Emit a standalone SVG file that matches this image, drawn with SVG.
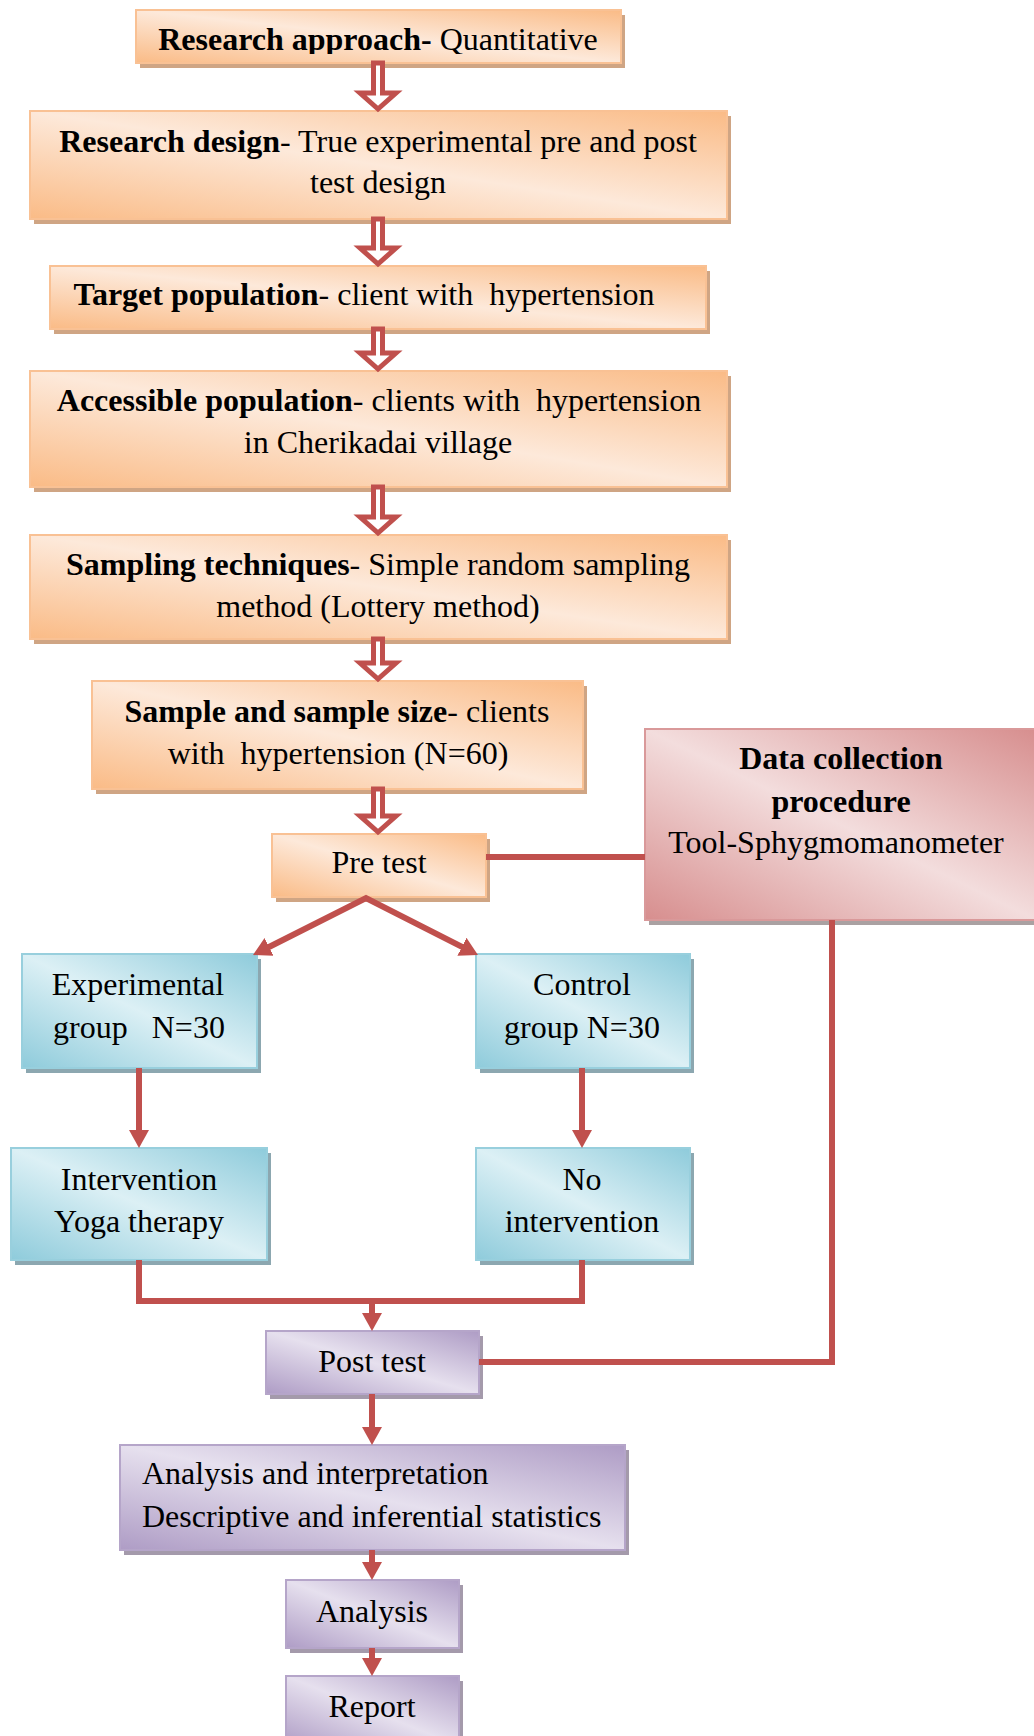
<svg xmlns="http://www.w3.org/2000/svg" width="1034" height="1736" viewBox="0 0 1034 1736">
<style>
.t{font-family:"Liberation Serif","Times New Roman",serif;font-size:32px;fill:#000}
.b{font-weight:bold}
.m{text-anchor:middle}
.or{fill:url(#gO);stroke:#f9c194;stroke-width:2}
.os{fill:#cfa584}
.bl{fill:url(#gB);stroke:#98cfdd;stroke-width:2}
.bs{fill:#8ca7b0}
.rd{fill:url(#gR);stroke:#d9999a;stroke-width:2}
.rs{fill:#aaa1a2}
.pu{fill:url(#gP);stroke:#b5a5c9;stroke-width:2}
.ps{fill:#a49aab}
.ln{fill:none;stroke:#c0504d;stroke-width:6;stroke-linejoin:miter}
.ha{fill:#fff;stroke:#c0504d;stroke-width:5;stroke-linejoin:miter}
</style>
<defs>
<linearGradient id="gO" x1="0" y1="1" x2="1" y2="0"><stop offset="0" stop-color="#fabb86"/><stop offset="0.5" stop-color="#fde9da"/><stop offset="1" stop-color="#fabb86"/></linearGradient>
<linearGradient id="gB" x1="0" y1="1" x2="1" y2="0"><stop offset="0" stop-color="#8ecbdb"/><stop offset="0.5" stop-color="#dcf0f5"/><stop offset="1" stop-color="#8ecbdb"/></linearGradient>
<linearGradient id="gR" x1="0" y1="1" x2="1" y2="0"><stop offset="0" stop-color="#d78e8e"/><stop offset="0.5" stop-color="#f3dddd"/><stop offset="1" stop-color="#d78e8e"/></linearGradient>
<linearGradient id="gP" x1="0" y1="1" x2="1" y2="0"><stop offset="0" stop-color="#ae9cc5"/><stop offset="0.5" stop-color="#e6e0ee"/><stop offset="1" stop-color="#ae9cc5"/></linearGradient>
<marker id="ah" markerUnits="userSpaceOnUse" markerWidth="20" markerHeight="22" viewBox="0 -11 20 22" refX="4" refY="0" orient="auto-start-reverse"><path d="M0,-10 L18,0 L0,10 z" fill="#c0504d"/></marker>
<clipPath id="c1"><rect x="136" y="0" width="490" height="54"/></clipPath>
</defs>

<g id="n-approach"><rect class="os" x="140" y="15" width="485" height="53"/><rect class="or" x="136" y="10" width="485" height="53"/>
<text class="t m" x="378" y="50" clip-path="url(#c1)"><tspan class="b">Research approach-</tspan> Quantitative</text></g>

<g id="n-design"><rect class="os" x="34" y="116" width="697" height="108"/><rect class="or" x="30" y="111" width="697" height="108"/>
<text class="t m" x="378" y="152"><tspan class="b">Research design</tspan>- True experimental pre and post</text>
<text class="t m" x="378" y="193">test design</text></g>

<g id="n-target"><rect class="os" x="54" y="271" width="656" height="63"/><rect class="or" x="50" y="266" width="656" height="63"/>
<text class="t m" x="364" y="305" xml:space="preserve"><tspan class="b">Target population</tspan>- client with  hypertension</text></g>

<g id="n-accessible"><rect class="os" x="34" y="376" width="697" height="116"/><rect class="or" x="30" y="371" width="697" height="116"/>
<text class="t m" x="379" y="411" xml:space="preserve"><tspan class="b">Accessible population</tspan>- clients with  hypertension</text>
<text class="t m" x="378" y="453">in Cherikadai village</text></g>

<g id="n-sampling"><rect class="os" x="34" y="540" width="697" height="104"/><rect class="or" x="30" y="535" width="697" height="104"/>
<text class="t m" x="378" y="575"><tspan class="b">Sampling techniques</tspan>- Simple random sampling</text>
<text class="t m" x="378" y="617">method (Lottery method)</text></g>

<g id="n-sample"><rect class="os" x="96" y="686" width="491" height="108"/><rect class="or" x="92" y="681" width="491" height="108"/>
<text class="t m" x="337" y="722"><tspan class="b">Sample and sample size</tspan>- clients</text>
<text class="t m" x="338" y="764" xml:space="preserve">with  hypertension (N=60)</text></g>

<g id="n-pretest"><rect class="os" x="276" y="839" width="214" height="63"/><rect class="or" x="272" y="834" width="214" height="63"/>
<text class="t m" x="379" y="873">Pre test</text></g>

<g id="n-datacollection"><rect class="rs" x="649" y="734" width="392" height="191"/><rect class="rd" x="645" y="729" width="392" height="191"/>
<text class="t m b" x="841" y="769">Data collection</text>
<text class="t m b" x="841" y="812">procedure</text>
<text class="t m" x="836" y="853">Tool-Sphygmomanometer</text></g>

<g id="n-experimental"><rect class="bs" x="26" y="959" width="235" height="114"/><rect class="bl" x="22" y="954" width="235" height="114"/>
<text class="t m" x="138" y="995">Experimental</text>
<text class="t m" x="139" y="1038" xml:space="preserve">group   N=30</text></g>

<g id="n-control"><rect class="bs" x="480" y="959" width="214" height="114"/><rect class="bl" x="476" y="954" width="214" height="114"/>
<text class="t m" x="582" y="995">Control</text>
<text class="t m" x="582" y="1038">group N=30</text></g>

<g id="n-intervention"><rect class="bs" x="15" y="1153" width="256" height="112"/><rect class="bl" x="11" y="1148" width="256" height="112"/>
<text class="t m" x="139" y="1190">Intervention</text>
<text class="t m" x="139" y="1232">Yoga therapy</text></g>

<g id="n-nointervention"><rect class="bs" x="480" y="1153" width="214" height="112"/><rect class="bl" x="476" y="1148" width="214" height="112"/>
<text class="t m" x="582" y="1190">No</text>
<text class="t m" x="582" y="1232">intervention</text></g>

<g id="n-posttest"><rect class="ps" x="270" y="1336" width="213" height="63"/><rect class="pu" x="266" y="1331" width="213" height="63"/>
<text class="t m" x="372" y="1372">Post test</text></g>

<g id="n-analysisinterp"><rect class="ps" x="124" y="1450" width="505" height="105"/><rect class="pu" x="120" y="1445" width="505" height="105"/>
<text class="t" x="142" y="1484">Analysis and interpretation</text>
<text class="t" x="142" y="1527">Descriptive and inferential statistics</text></g>

<g id="n-analysis"><rect class="ps" x="290" y="1585" width="173" height="68"/><rect class="pu" x="286" y="1580" width="173" height="68"/>
<text class="t m" x="372" y="1622">Analysis</text></g>

<g id="n-report"><rect class="ps" x="290" y="1681" width="173" height="70"/><rect class="pu" x="286" y="1676" width="173" height="70"/>
<text class="t m" x="372" y="1717">Report</text></g>

<g id="connectors">
<path class="ha" d="M373.5,63 V93 H360 L378,109 L396,93 H382.5 V63 Z"/>
<path class="ha" d="M373.5,219 V248 H360 L378,264 L396,248 H382.5 V219 Z"/>
<path class="ha" d="M373.5,329 V353 H360 L378,369 L396,353 H382.5 V329 Z"/>
<path class="ha" d="M373.5,487 V517 H360 L378,533 L396,517 H382.5 V487 Z"/>
<path class="ha" d="M373.5,639 V663 H360 L378,679 L396,663 H382.5 V639 Z"/>
<path class="ha" d="M373.5,789 V816 H360 L378,832 L396,816 H382.5 V789 Z"/>
<path class="ln" d="M265.5,948.7 L366,898 L465.5,948.6" marker-start="url(#ah)" marker-end="url(#ah)"/>
<path class="ln" d="M486,857 H645"/>
<path class="ln" d="M832,920 V1362 H479"/>
<path class="ln" d="M139,1068 V1134" marker-end="url(#ah)"/>
<path class="ln" d="M582,1068 V1134" marker-end="url(#ah)"/>
<path class="ln" d="M139,1260 V1301 H582 V1260"/>
<path class="ln" d="M372,1301 V1317" marker-end="url(#ah)"/>
<path class="ln" d="M372,1394 V1431" marker-end="url(#ah)"/>
<path class="ln" d="M372,1550 V1566" marker-end="url(#ah)"/>
<path class="ln" d="M372,1648 V1662" marker-end="url(#ah)"/>
</g>
</svg>
